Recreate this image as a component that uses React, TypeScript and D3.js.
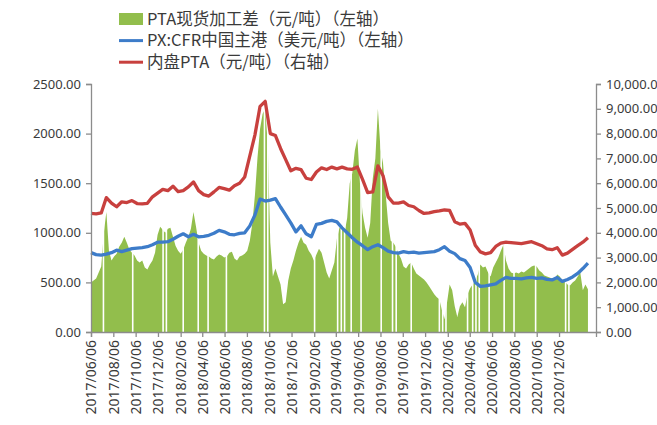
import React, { useEffect, useRef } from 'react';
import * as d3 from 'd3';

const W = 657;
const H = 425;

const START = new Date(2017, 5, 6);
const END = new Date(2021, 2, 17);

// PTA现货加工差, weekly from 2017/06/06 (元/吨, left axis)
const spreadValues = [
  500, 520, 540, 600, 660, 1000, 1210, 820, 720, 760,
  790, 860, 900, 960, 900, 830, 800, 770, 720, 700,
  720, 650, 630, 680, 720, 800, 980, 1060, 1030, 1000,
  1040, 1050, 960, 870, 820, 790, 830, 900, 960, 1040,
  1210, 1060, 900, 820, 790, 770, 760, 740, 730, 760,
  780, 770, 750, 760, 800, 810, 740, 720, 760, 770,
  790, 820, 920, 1100, 1380, 1760, 2050, 2200, 2250, 1900,
  900, 560, 640, 560, 480, 280, 300, 520, 640, 720,
  820, 900, 960, 900, 880, 820, 780, 720, 780, 840,
  800, 700, 600, 540, 620, 700, 940, 1050, 1060, 1000,
  1150, 1500, 1600, 1830, 1950, 1500, 1200, 1050, 950, 1100,
  1550, 1750, 2250, 1850, 1700, 1400, 1100, 920, 900, 860,
  790, 740, 660, 640, 680, 700, 640, 590, 570, 550,
  530, 500, 460, 420, 380, 350, 330, 220, 130, 300,
  480, 420, 260, 150, 260, 300, 250, 380, 440, 480,
  520, 580, 680, 650, 660, 600, 560, 650, 700, 750,
  820, 880, 720, 640, 600, 590, 600, 590, 610, 600,
  620, 640, 660, 670, 660, 620, 600, 570, 560, 550,
  540, 530, 580, 560, 520, 510, 480, 470, 500, 520,
  560, 600, 420, 480, 430,
];

// days with no spread quote
const spreadGaps = [
  '2017-07-10', '2017-09-28', '2017-12-20', '2017-12-29', '2018-02-13',
  '2018-03-26', '2018-04-22', '2018-06-11', '2018-09-23', '2018-10-02',
  '2019-02-07', '2019-04-11', '2019-04-21', '2019-04-30', '2019-05-18',
  '2019-06-14', '2019-08-08', '2019-09-08', '2019-09-18', '2019-10-29',
  '2020-01-14', '2020-01-23', '2020-02-01', '2020-03-31', '2020-04-14',
  '2020-04-23', '2020-05-02', '2020-05-29', '2020-07-09', '2020-08-05',
  '2020-10-03', '2020-12-24', '2021-01-02',
];

// PX:CFR中国主港, every two weeks (美元/吨, left axis)
const pxValues = [
  800, 780, 775, 785, 800, 825, 810, 825, 840, 845,
  850, 860, 880, 905, 905, 910, 935, 965, 990, 960,
  985, 960, 965, 975, 995, 1025, 1010, 985, 980, 995,
  1000, 1070, 1180, 1340, 1320, 1330, 1345, 1260, 1180, 1100,
  1010, 1070, 990, 960, 1085, 1095, 1115, 1125, 1110, 1050,
  1000, 950, 905, 870, 830, 860, 880, 850, 815, 800,
  795, 810, 800, 805, 795, 800, 805, 810, 830, 860,
  815, 790, 740, 720, 650, 500, 460, 465, 475, 485,
  520, 550, 540, 540, 535, 545, 550, 540, 545, 530,
  525, 550, 510, 530, 555, 590, 640, 695,
];

// 内盘PTA, every two weeks (元/吨, right axis)
const ptaValues = [
  4780, 4760, 4800, 5420, 5200, 5050, 5250, 5220, 5300, 5180,
  5170, 5190, 5450, 5600, 5750, 5700, 5880, 5660, 5700, 5850,
  6050, 5700, 5540, 5480, 5650, 5830, 5780, 5720, 5900, 6000,
  6250, 7100, 7950, 9100, 9300, 8000, 7920, 7400, 6950, 6500,
  6600, 6550, 6200, 6150, 6450, 6620, 6550, 6650, 6580, 6650,
  6580, 6560, 6650, 6150, 5620, 5650, 6700, 6300, 5450, 5200,
  5200, 5250, 5100, 5050, 4900, 4780, 4800, 4850, 4880, 4920,
  4900, 4450, 4350, 4380, 4110, 3500, 3230, 3150, 3200, 3450,
  3580, 3620, 3600, 3580, 3560, 3600, 3640, 3560, 3480, 3350,
  3320, 3400, 3100, 3180, 3330, 3480, 3620, 3800,
];

const leftTicks = [0, 500, 1000, 1500, 2000, 2500];
const rightTicks = [0, 1000, 2000, 3000, 4000, 5000, 6000, 7000, 8000, 9000, 10000];
const dateTicks = d3.range(0, 22).map(k => d3.timeMonth.offset(START, 2 * k));

const legendItems = [
  { label: 'PTA现货加工差（元/吨）（左轴）', color: '#92be4c', kind: 'area' },
  { label: 'PX:CFR中国主港（美元/吨）（左轴）', color: '#3d7cc9', kind: 'line' },
  { label: '内盘PTA（元/吨）（右轴）', color: '#c8403e', kind: 'line' },
];

const AXIS = '#8c8c8c';
const TEXT = '#3a3a3a';
const FONT = '"Noto Sans", "Noto Sans CJK SC", sans-serif';

export default function App() {
  const node = useRef<SVGSVGElement>(null);

  useEffect(() => {
    const svg = d3.select(node.current);
    svg.selectAll('*').remove();

    const left = 91, right = 596, top = 84, bottom = 332;
    const x = d3.scaleTime().domain([START, END]).range([left, right]);
    const yL = d3.scaleLinear().domain([0, 2500]).range([bottom, top]);
    const yR = d3.scaleLinear().domain([0, 10000]).range([bottom, top]);

    const weekly = spreadValues.map((v, i) => ({ date: d3.timeDay.offset(START, 7 * i), v }));
    const px = pxValues.map((v, i) => ({ date: d3.timeDay.offset(START, 14 * i), v }));
    const pta = ptaValues.map((v, i) => ({ date: d3.timeDay.offset(START, 14 * i), v }));

    // green area
    const area = d3.area<any>()
      .x(d => x(d.date))
      .y0(yL(0))
      .y1(d => yL(d.v));
    svg.append('path')
      .attr('d', area(weekly))
      .attr('fill', '#92be4c');

    const parse = d3.timeParse('%Y-%m-%d');
    svg.append('g').selectAll('line')
      .data(spreadGaps.map(s => parse(s)))
      .join('line')
      .attr('x1', d => x(d)).attr('x2', d => x(d))
      .attr('y1', yL(0)).attr('y2', yL(2300))
      .attr('stroke', '#fff')
      .attr('stroke-width', 1.6);

    const lineL = d3.line<any>().x(d => x(d.date)).y(d => yL(d.v));
    const lineR = d3.line<any>().x(d => x(d.date)).y(d => yR(d.v));

    svg.append('path')
      .attr('d', lineL(px))
      .attr('fill', 'none')
      .attr('stroke', '#3d7cc9')
      .attr('stroke-width', 3.3)
      .attr('stroke-linejoin', 'round');

    svg.append('path')
      .attr('d', lineR(pta))
      .attr('fill', 'none')
      .attr('stroke', '#c8403e')
      .attr('stroke-width', 3.3)
      .attr('stroke-linejoin', 'round');

    // axes
    const axisLeft = d3.axisLeft(yL).tickValues(leftTicks).tickSize(5).tickPadding(5)
      .tickFormat(d => d3.format('.2f')(d as number));
    const gl = svg.append('g').attr('transform', `translate(${left},0)`).call(axisLeft);

    const axisRight = d3.axisRight(yR).tickValues(rightTicks).tickSize(5).tickPadding(5)
      .tickFormat(d => d3.format(',.2f')(d as number));
    const gr = svg.append('g').attr('transform', `translate(${right},0)`).call(axisRight);

    const axisBottom = d3.axisBottom(x).tickValues(dateTicks).tickSize(5).tickPadding(5)
      .tickFormat(d => d3.timeFormat('%Y/%m/%d')(d as Date));
    const gb = svg.append('g').attr('transform', `translate(0,${bottom})`).call(axisBottom);

    [gl, gr, gb].forEach(g => {
      g.select('.domain').attr('stroke', AXIS).attr('stroke-width', 1.3);
      g.selectAll('.tick line').attr('stroke', AXIS).attr('stroke-width', 1.3);
      g.selectAll('text')
        .attr('fill', TEXT)
        .style('font-family', FONT)
        .style('font-size', '13px');
    });

    gb.selectAll('text')
      .attr('transform', 'rotate(-90)')
      .attr('text-anchor', 'end')
      .attr('x', -8)
      .attr('y', 0)
      .attr('dy', '0.35em')
      .style('font-size', '14px');

    // legend
    const lg = svg.append('g').attr('transform', 'translate(119,19)');
    legendItems.forEach((item, i) => {
      const row = lg.append('g').attr('transform', `translate(0,${i * 21.6})`);
      if (item.kind === 'area') {
        row.append('rect').attr('x', 0).attr('y', -6).attr('width', 24).attr('height', 12).attr('fill', item.color);
      } else {
        row.append('line').attr('x1', 0).attr('x2', 24).attr('y1', 0).attr('y2', 0)
          .attr('stroke', item.color).attr('stroke-width', 3);
      }
      row.append('text')
        .attr('x', 28)
        .attr('dy', '0.35em')
        .attr('fill', TEXT)
        .style('font-family', '"Noto Sans CJK SC", sans-serif')
        .style('font-size', '16.5px')
        .text(item.label);
    });
  }, []);

  return (
    <svg
      ref={node}
      width={W}
      height={H}
      style={{ position: 'absolute', left: 0, top: 0, background: '#fff' }}
    />
  );
}
